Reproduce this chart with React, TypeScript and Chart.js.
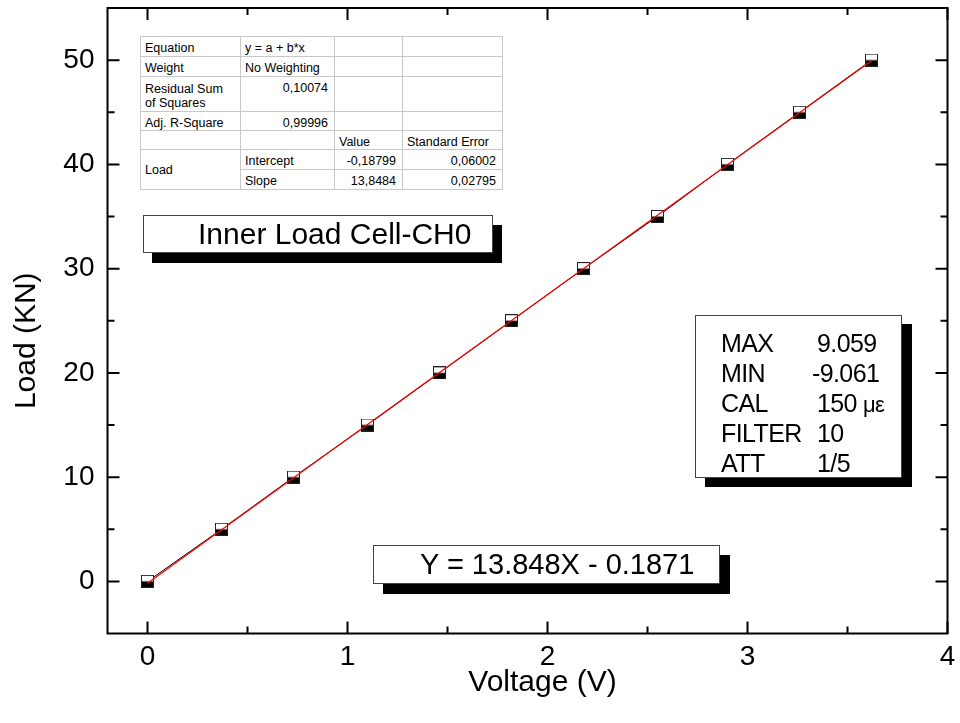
import React, { useEffect, useRef } from "react";
import { Chart, registerables } from "chart.js";

Chart.register(...registerables);

// ---- data ----
const voltage = [0, 0.37, 0.73, 1.1, 1.46, 1.82, 2.18, 2.55, 2.9, 3.26, 3.62];
const load = [0, 5, 10, 15, 20, 25, 30, 35, 40, 45, 50];
const fitVoltage = [0, 3.62];
const fitLoad = [-0.19, 49.94];

const xRange = [-0.2, 4];
const yRange = [-5, 55];
const xMajorTicks = [0, 1, 2, 3, 4];
const xMinorTicks = [0.5, 1.5, 2.5, 3.5];
const yMajorTicks = [0, 10, 20, 30, 40, 50];
const yMinorTicks = [5, 15, 25, 35, 45];

const xTitle = "Voltage (V)";
const yTitle = "Load (KN)";
const chartLabel = "Inner Load Cell-CH0";
const equationText = "Y = 13.848X - 0.1871";

const statNames = ["MAX", "MIN", "CAL", "FILTER", "ATT"];
const statValues = ["9.059", "-9.061", "150", "10", "1/5"];
const statUnits = ["", "", "\u03bc\u03b5", "", ""];

const tableEquation = "y = a + b*x";
const tableWeight = "No Weighting";
const tableRss = "0,10074";
const tableAdjR2 = "0,99996";
const tableParams = ["Intercept", "Slope"];
const tableValues = ["-0,18799", "13,8484"];
const tableErrors = ["0,06002", "0,02795"];

const FONT = '"Liberation Sans", Arial, Helvetica, sans-serif';

export default function App() {
  const ref = useRef<HTMLCanvasElement>(null);

  useEffect(() => {
    const canvas = ref.current;
    if (!canvas) return;

    const marker = document.createElement("canvas");
    marker.width = 13;
    marker.height = 13;
    const m = marker.getContext("2d")!;
    m.fillStyle = "#ffffff";
    m.fillRect(0, 0, 13, 13);
    m.fillStyle = "#000000";
    m.fillRect(0, 6.5, 13, 6.5);
    m.strokeStyle = "#222222";
    m.lineWidth = 1;
    m.strokeRect(0.5, 0.5, 12, 12);

    const framePlugin = {
      id: "frame",
      beforeDatasetsDraw(chart: any) {
        const { ctx, chartArea } = chart;
        const { left, right, top, bottom } = chartArea;
        const xs = chart.scales.x;
        const ys = chart.scales.y;
        ctx.save();
        ctx.strokeStyle = "#000";
        ctx.lineWidth = 2;
        ctx.strokeRect(left, top, right - left, bottom - top);
        const major = 12;
        const minor = 7;
        const xt = (vals: number[], len: number) => {
          vals.forEach((v) => {
            const p = xs.getPixelForValue(v);
            ctx.beginPath();
            ctx.moveTo(p, bottom);
            ctx.lineTo(p, bottom - len);
            ctx.moveTo(p, top);
            ctx.lineTo(p, top + len);
            ctx.stroke();
          });
        };
        const yt = (vals: number[], len: number) => {
          vals.forEach((v) => {
            const p = ys.getPixelForValue(v);
            ctx.beginPath();
            ctx.moveTo(left, p);
            ctx.lineTo(left + len, p);
            ctx.moveTo(right, p);
            ctx.lineTo(right - len, p);
            ctx.stroke();
          });
        };
        xt(xMajorTicks, major);
        xt(xMinorTicks, minor);
        yt(yMajorTicks, major);
        yt(yMinorTicks, minor);
        ctx.restore();
      },
      afterDraw(chart: any) {
        const { ctx, chartArea } = chart;
        const { left, right, top, bottom } = chartArea;
        ctx.save();
        ctx.fillStyle = "#000";
        ctx.font = `30px ${FONT}`;
        ctx.textAlign = "center";
        ctx.textBaseline = "middle";
        ctx.fillText(xTitle, (left + right) / 2 + 15, bottom + 49);
        ctx.translate(27, (top + bottom) / 2 + 20);
        ctx.rotate(-Math.PI / 2);
        ctx.fillText(yTitle, 0, 0);
        ctx.restore();
      },
    };

    const tickFont = { size: 28, family: FONT };

    const chart = new Chart(canvas, {
      type: "scatter",
      data: {
        datasets: [
          {
            label: "Fit",
            data: fitVoltage.map((x, i) => ({ x, y: fitLoad[i] })),
            showLine: true,
            borderColor: "#ff0000",
            borderWidth: 1.2,
            pointRadius: 0,
            order: 0,
          },
          {
            label: "Load",
            data: voltage.map((x, i) => ({ x, y: load[i] })),
            showLine: true,
            borderColor: "#000000",
            borderWidth: 1,
            pointStyle: marker as any,
            pointRadius: 6,
            order: 1,
          },
        ],
      } as any,
      options: {
        animation: false,
        responsive: false,
        devicePixelRatio: 1,
        layout: { padding: { top: 8, right: 12.5, left: 0, bottom: 0 } },
        plugins: { legend: { display: false }, tooltip: { enabled: false } },
        scales: {
          x: {
            type: "linear",
            min: xRange[0],
            max: xRange[1],
            grid: { display: false, drawTicks: false },
            border: { display: false },
            ticks: {
              font: tickFont,
              color: "#000",
              padding: 7,
              callback: (v: any) => String(v),
            },
            afterBuildTicks: (s: any) => {
              s.ticks = xMajorTicks.map((v) => ({ value: v }));
            },
            afterFit: (s: any) => {
              s.height = 89.5;
              s.paddingLeft = 0;
              s.paddingRight = 0;
              s.paddingTop = 0;
              s.paddingBottom = 0;
            },
          },
          y: {
            type: "linear",
            min: yRange[0],
            max: yRange[1],
            grid: { display: false, drawTicks: false },
            border: { display: false },
            ticks: {
              font: tickFont,
              color: "#000",
              padding: 13,
              callback: (v: any) => String(v),
            },
            afterBuildTicks: (s: any) => {
              s.ticks = yMajorTicks.map((v) => ({ value: v }));
            },
            afterFit: (s: any) => {
              s.width = 107.5;
              s.paddingLeft = 0;
              s.paddingRight = 0;
              s.paddingTop = 0;
              s.paddingBottom = 0;
            },
          },
        },
      } as any,
      plugins: [framePlugin],
    });

    return () => chart.destroy();
  }, []);

  const cellBase: React.CSSProperties = {
    borderTop: "1px solid #c8c8c8",
    borderBottom: "1px solid #c8c8c8",
    borderLeft: "1px solid #c8c8c8",
    borderRight: "1px solid #c8c8c8",
    padding: "4px 5px 0 4px",
    verticalAlign: "top",
    overflow: "hidden",
    whiteSpace: "nowrap",
  };
  const L: React.CSSProperties = { ...cellBase, textAlign: "left" };
  const R: React.CSSProperties = { ...cellBase, textAlign: "right", paddingRight: 6 };

  const shadowBox: React.CSSProperties = {
    position: "absolute",
    background: "#fff",
    border: "1px solid #444",
    boxSizing: "border-box",
    fontFamily: FONT,
    color: "#000",
  };

  return (
    <div style={{ position: "fixed", left: 0, top: 0, width: 960, height: 723, background: "#fff" }}>
      <canvas ref={ref} width={960} height={723} style={{ display: "block", width: 960, height: 723 }} />

      {/* fit-results table */}
      <table
        style={{
          position: "absolute",
          left: 140,
          top: 36,
          width: 362,
          borderCollapse: "collapse",
          tableLayout: "fixed",
          fontFamily: FONT,
          fontSize: 12.5,
          lineHeight: "14px",
          color: "#000",
          background: "#fff",
          border: "1px solid #555",
        }}
      >
        <colgroup>
          <col style={{ width: 100 }} />
          <col style={{ width: 94 }} />
          <col style={{ width: 68 }} />
          <col style={{ width: 100 }} />
        </colgroup>
        <tbody>
          <tr style={{ height: 20 }}>
            <td style={L}>Equation</td>
            <td style={L}>{tableEquation}</td>
            <td style={L}></td>
            <td style={L}></td>
          </tr>
          <tr style={{ height: 20 }}>
            <td style={L}>Weight</td>
            <td style={L}>{tableWeight}</td>
            <td style={L}></td>
            <td style={L}></td>
          </tr>
          <tr style={{ height: 35 }}>
            <td style={{ ...L, whiteSpace: "normal", paddingTop: 5 }}>
              Residual Sum
              <br />
              of Squares
            </td>
            <td style={R}>{tableRss}</td>
            <td style={L}></td>
            <td style={L}></td>
          </tr>
          <tr style={{ height: 19 }}>
            <td style={L}>Adj. R-Square</td>
            <td style={R}>{tableAdjR2}</td>
            <td style={L}></td>
            <td style={L}></td>
          </tr>
          <tr style={{ height: 19 }}>
            <td style={L}></td>
            <td style={L}></td>
            <td style={L}>Value</td>
            <td style={L}>Standard Error</td>
          </tr>
          <tr style={{ height: 20 }}>
            <td style={{ ...L, verticalAlign: "middle", paddingTop: 0 }} rowSpan={2}>
              Load
            </td>
            <td style={L}>{tableParams[0]}</td>
            <td style={R}>{tableValues[0]}</td>
            <td style={R}>{tableErrors[0]}</td>
          </tr>
          <tr style={{ height: 20 }}>
            <td style={L}>{tableParams[1]}</td>
            <td style={R}>{tableValues[1]}</td>
            <td style={R}>{tableErrors[1]}</td>
          </tr>
        </tbody>
      </table>

      {/* chart label box */}
      <div
        style={{
          ...shadowBox,
          left: 143,
          top: 215,
          width: 350,
          height: 38,
          boxShadow: "9px 10px 0 #000",
          fontSize: 30,
          lineHeight: "36px",
          paddingLeft: 54,
          whiteSpace: "nowrap",
        }}
      >
        {chartLabel}
      </div>

      {/* stats box */}
      <div
        style={{
          ...shadowBox,
          left: 695,
          top: 315,
          width: 207,
          height: 163,
          boxShadow: "10px 9px 0 #000",
          fontSize: 25,
          letterSpacing: "-0.6px",
        }}
      >
        {statNames.map((n, i) => (
          <div
            key={n}
            style={{
              position: "absolute",
              left: 0,
              top: 12 + i * 30,
              height: 30,
              width: "100%",
              lineHeight: "30px",
              whiteSpace: "nowrap",
            }}
          >
            <span style={{ position: "absolute", left: 25 }}>{n}</span>
            <span style={{ position: "absolute", left: statValues[i].startsWith("-") ? 116 : 121 }}>
              {statValues[i]}
              {statUnits[i] ? <span style={{ fontSize: 22, marginLeft: 6 }}>{statUnits[i]}</span> : null}
            </span>
          </div>
        ))}
      </div>

      {/* equation box */}
      <div
        style={{
          ...shadowBox,
          left: 373,
          top: 545,
          width: 347,
          height: 39,
          boxShadow: "10px 10px 0 #000",
          fontSize: 29,
          lineHeight: "37px",
          paddingLeft: 46,
          whiteSpace: "nowrap",
        }}
      >
        {equationText}
      </div>
    </div>
  );
}
